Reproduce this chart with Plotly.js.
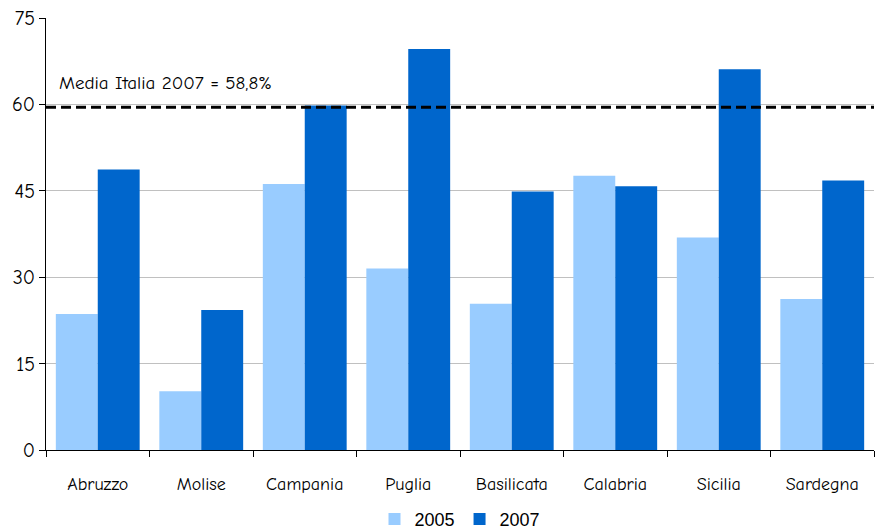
<!DOCTYPE html>
<html><head><meta charset="utf-8">
<script src="https://cdn.plot.ly/plotly-3.0.1.min.js"></script>
<style>body{margin:0;background:#fff}#c{width:875px;height:530px}</style>
</head><body><div id="c"></div>
<script>
const regions = ["Abruzzo","Molise","Campania","Puglia","Basilicata","Calabria","Sicilia","Sardegna"];
const v2005 = [23.6, 10.2, 46.2, 31.5, 25.4, 47.6, 36.9, 26.2];
const v2007 = [48.7, 24.3, 59.8, 69.6, 44.9, 45.8, 66.1, 46.8];
const mediaLabel = "Media Italia 2007 = 58,8%";
const mediaLevel = 59.5;
const yTicks = [0, 15, 30, 45, 60, 75];

const font = "Comic Sans MS, Comic Neue, DejaVu Sans, sans-serif";
const traces = [
  {type:"bar", name:"2005", x:regions, y:v2005, marker:{color:"#99CCFF"}},
  {type:"bar", name:"2007", x:regions, y:v2007, marker:{color:"#0066CC"}}
];
const layout = {
  width:875, height:530,
  margin:{l:46, r:1, t:18, b:80},
  paper_bgcolor:"#fff", plot_bgcolor:"#fff",
  barmode:"group", bargap:0.19, bargroupgap:0,
  showlegend:true,
  legend:{orientation:"h", x:0.5, xanchor:"center", yref:"container", y:0.02, yanchor:"middle",
          font:{family:"Liberation Sans, Arial, sans-serif", size:18, color:"#000"},
          itemwidth:20, tracegroupgap:0},
  xaxis:{type:"category", tickson:"boundaries", ticks:"outside", ticklen:6, tickcolor:"#000",
         showline:true, linecolor:"#000", linewidth:1, showgrid:false,
         ticklabelstandoff:17,
         tickfont:{family:font, size:18, color:"#000"}},
  yaxis:{range:[0,75], tickvals:yTicks, ticks:"outside", ticklen:6, tickcolor:"#000",
         showline:true, linecolor:"#000", linewidth:1,
         showgrid:true, gridcolor:"#c0c0c0", gridwidth:1, zeroline:false,
         tickfont:{family:font, size:20, color:"#000"}},
  shapes:[{type:"line", xref:"paper", x0:0, x1:1, yref:"y", y0:mediaLevel, y1:mediaLevel,
           line:{color:"#000", width:3, dash:"10px,5px"}}],
  annotations:[{xref:"paper", x:0.013, xanchor:"left", yref:"y", y:mediaLevel+2, yanchor:"bottom",
                text:mediaLabel, showarrow:false, font:{family:font, size:19, color:"#000"}}]
};
Plotly.newPlot("c", traces, layout, {displayModeBar:false, staticPlot:true});
</script></body></html>
